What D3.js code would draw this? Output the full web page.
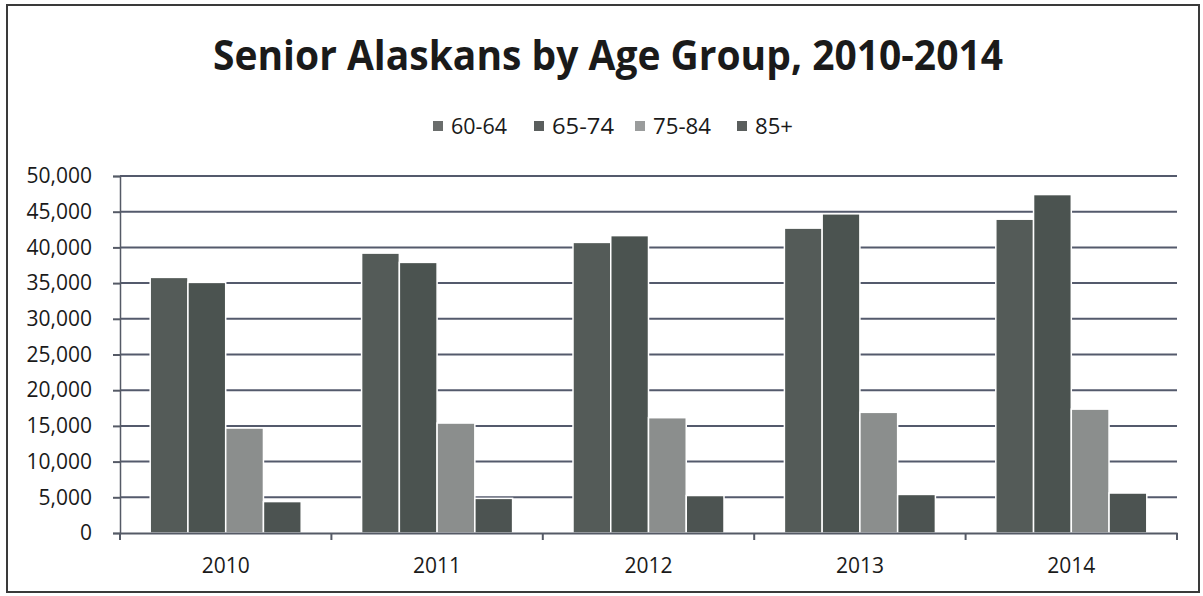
<!DOCTYPE html>
<html>
<head>
<meta charset="utf-8">
<script src="https://cdn.jsdelivr.net/npm/d3@7"></script>
<style>
  html, body { margin: 0; padding: 0; background: #fff; }
  svg { display: block; }
  text { font-family: "Open Sans", "Noto Sans", sans-serif; fill: #1a1a1a; }
</style>
</head>
<body>
<svg id="chart" width="1203" height="596"></svg>
<script>
const years = ["2010", "2011", "2012", "2013", "2014"];
const seriesNames = ["60-64", "65-74", "75-84", "85+"];
const s6064 = [35800, 39200, 40700, 42700, 43950];
const s6574 = [35100, 37900, 41650, 44700, 47400];
const s7584 = [14700, 15400, 16150, 16900, 17350];
const s85   = [4400, 4850, 5250, 5400, 5600];
const yTicks = [0, 5000, 10000, 15000, 20000, 25000, 30000, 35000, 40000, 45000, 50000];
const title = "Senior Alaskans by Age Group, 2010-2014";

const seriesValues = [s6064, s6574, s7584, s85];
const barColors = ["#545b58", "#4b5350", "#8b8e8d", "#4c5351"];
const legendColors = ["#6a6d6c", "#5a5e5d", "#9a9c9c", "#5a5e5d"];

const svg = d3.select("#chart");
const plotL = 120, plotR = 1177, plotT = 176, plotB = 533;

// frame
svg.append("rect").attr("x", 7).attr("y", 5).attr("width", 1192).attr("height", 587)
  .attr("fill", "none").attr("stroke", "#3a3a3a").attr("stroke-width", 2);

const x0 = d3.scaleBand().domain(years).range([plotL, plotR]).padding(0);
const x1 = d3.scaleBand().domain(seriesNames).range([0, x0.bandwidth()]).paddingInner(0).paddingOuter(0.8);
const y = d3.scaleLinear().domain([0, 50000]).range([plotB, plotT]);

// gridlines
svg.append("g").selectAll("line").data(yTicks.filter(d => d > 0)).join("line")
  .attr("x1", plotL).attr("x2", plotR)
  .attr("y1", d => y(d)).attr("y2", d => y(d))
  .attr("stroke", "#545a6c").attr("stroke-width", 2);

// y axis
const yAxis = d3.axisLeft(y).tickValues(yTicks).tickSize(7).tickPadding(21)
  .tickFormat(d3.format(","));
const gy = svg.append("g").attr("transform", `translate(${plotL},0)`).call(yAxis);
gy.select(".domain").attr("stroke", "#555a66").attr("stroke-width", 1.5);
gy.selectAll(".tick line").attr("stroke", "#555a66").attr("stroke-width", 2);
gy.selectAll(".tick text").style("font-size", "21px").attr("fill", "#1a1a1a")
  .style("font-family", "'Open Sans', sans-serif");

// bars
const groups = svg.append("g").selectAll("g").data(years).join("g")
  .attr("transform", d => `translate(${x0(d)},0)`);
groups.selectAll("rect")
  .data((yr, i) => seriesNames.map((s, j) => ({ s, j, v: seriesValues[j][i] })))
  .join("rect")
  .attr("x", d => x1(d.s))
  .attr("y", d => y(d.v))
  .attr("width", x1.bandwidth())
  .attr("height", d => y(0) - y(d.v))
  .attr("fill", d => barColors[d.j])
  .attr("stroke", "#fff").attr("stroke-width", 1.5);

// x axis
const xAxis = d3.axisBottom(x0).tickSize(0).tickPadding(25);
const gx = svg.append("g").attr("transform", `translate(0,${plotB})`).call(xAxis);
gx.select(".domain").attr("stroke", "#555a66").attr("stroke-width", 2);
gx.selectAll(".tick text").style("font-size", "21px").attr("fill", "#1a1a1a")
  .style("font-family", "'Open Sans', sans-serif");
// category boundary ticks
const bounds = years.map(d => x0(d)).concat([x0(years[years.length - 1]) + x0.bandwidth()]);
svg.append("g").selectAll("line").data(bounds).join("line")
  .attr("x1", d => d).attr("x2", d => d)
  .attr("y1", plotB).attr("y2", plotB + 7)
  .attr("stroke", "#555a66").attr("stroke-width", 2);

// title
svg.append("text").attr("x", 608).attr("y", 70).attr("text-anchor", "middle")
  .style("font-size", "42px").style("font-weight", "bold")
  .style("font-family", "'Open Sans', sans-serif")
  .attr("textLength", 790).attr("lengthAdjust", "spacingAndGlyphs")
  .attr("fill", "#111").text(title);

// legend
const legendX = [433, 534, 635, 737];
const lg = svg.append("g").selectAll("g").data(seriesNames).join("g")
  .attr("transform", (d, i) => `translate(${legendX[i]},126)`);
lg.append("rect").attr("x", 0).attr("y", -5).attr("width", 10).attr("height", 10)
  .attr("fill", (d, i) => legendColors[i]);
lg.append("text").attr("x", 18).attr("y", 0).attr("dy", "0.36em")
  .style("font-size", "21px").style("font-family", "'Open Sans', sans-serif")
  .attr("textLength", (d, i) => [56, 62, 58, 38][i]).attr("lengthAdjust", "spacingAndGlyphs")
  .attr("fill", "#1a1a1a").text(d => d);
</script>
</body>
</html>
